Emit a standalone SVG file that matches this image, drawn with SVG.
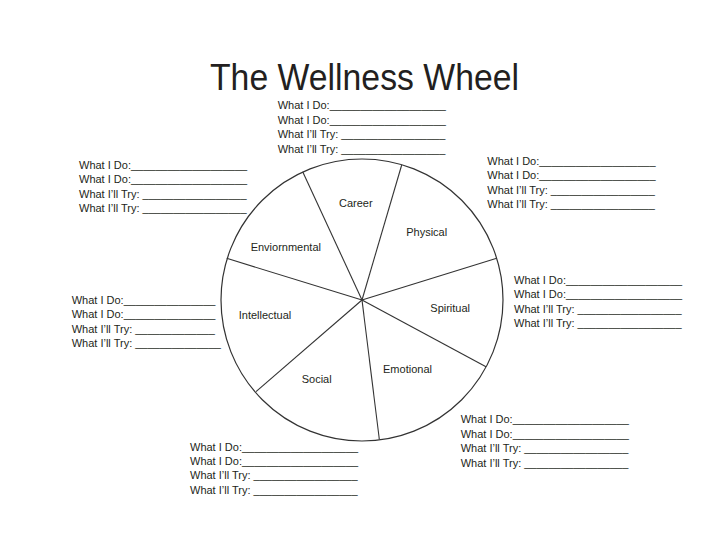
<svg xmlns="http://www.w3.org/2000/svg" width="720" height="540" viewBox="0 0 720 540">
<style>
text{font-family:"Liberation Sans",Arial,sans-serif;fill:#231f20}
.f{font-size:11px}
.seg{font-size:11px;text-anchor:middle}
.title{font-size:37px}
.wheel{fill:#fff;stroke:#333;stroke-width:1.2}
.spoke{stroke:#333;stroke-width:1.1}
</style>
<rect width="720" height="540" fill="#fff"/>
<g id="title"><text class="title" x="210" y="90" textLength="309" lengthAdjust="spacingAndGlyphs">The Wellness Wheel</text></g>
<g id="wheel">
<circle class="wheel" cx="362" cy="300" r="141"/>
<g id="spokes">
<line class="spoke" x1="362" y1="300" x2="302.7" y2="171.7"/>
<line class="spoke" x1="362" y1="300" x2="401.7" y2="165"/>
<line class="spoke" x1="362" y1="300" x2="496.7" y2="258.3"/>
<line class="spoke" x1="362" y1="300" x2="486" y2="366.7"/>
<line class="spoke" x1="362" y1="300" x2="379.3" y2="439.3"/>
<line class="spoke" x1="362" y1="300" x2="256" y2="391.7"/>
<line class="spoke" x1="362" y1="300" x2="226.7" y2="258.3"/>
</g>
</g>
<g id="seg-career"><text class="seg" x="355.8" y="206.5">Career</text></g>
<g id="seg-physical"><text class="seg" x="426.7" y="236">Physical</text></g>
<g id="seg-enviornmental"><text class="seg" x="285.8" y="250.5">Enviornmental</text></g>
<g id="seg-spiritual"><text class="seg" x="450.2" y="311.5">Spiritual</text></g>
<g id="seg-intellectual"><text class="seg" x="265" y="319.3">Intellectual</text></g>
<g id="seg-emotional"><text class="seg" x="407.5" y="372.7">Emotional</text></g>
<g id="seg-social"><text class="seg" x="316.7" y="383.3">Social</text></g>

<g id="block-top" class="f">
<text class="f" x="277.7" y="109">What I Do:___________________</text>
<text class="f" x="277.7" y="123.6">What I Do:___________________</text>
<text class="f" x="277.7" y="138.2">What I’ll Try: _________________</text>
<text class="f" x="277.7" y="152.8">What I’ll Try: _________________</text>
</g>
<g id="block-top-left">
<text class="f" x="79" y="169">What I Do:___________________</text>
<text class="f" x="79" y="183.3">What I Do:___________________</text>
<text class="f" x="79" y="197.6">What I’ll Try: _________________</text>
<text class="f" x="79" y="211.9">What I’ll Try: _________________</text>
</g>
<g id="block-top-right">
<text class="f" x="487.3" y="165">What I Do:___________________</text>
<text class="f" x="487.3" y="179.3">What I Do:___________________</text>
<text class="f" x="487.3" y="193.6">What I’ll Try: _________________</text>
<text class="f" x="487.3" y="207.9">What I’ll Try: _________________</text>
</g>
<g id="block-left">
<text class="f" x="71.7" y="304">What I Do:_______________</text>
<text class="f" x="71.7" y="318.3">What I Do:_______________</text>
<text class="f" x="71.7" y="332.6">What I’ll Try: _____________</text>
<text class="f" x="71.7" y="346.9">What I’ll Try: ______________</text>
</g>
<g id="block-right">
<text class="f" x="514" y="284">What I Do:___________________</text>
<text class="f" x="514" y="298.3">What I Do:___________________</text>
<text class="f" x="514" y="312.6">What I’ll Try: _________________</text>
<text class="f" x="514" y="326.9">What I’ll Try: _________________</text>
</g>
<g id="block-bottom-right">
<text class="f" x="460.7" y="423.3">What I Do:___________________</text>
<text class="f" x="460.7" y="437.7">What I Do:___________________</text>
<text class="f" x="460.7" y="452.1">What I’ll Try: _________________</text>
<text class="f" x="460.7" y="466.5">What I’ll Try: _________________</text>
</g>
<g id="block-bottom-left">
<text class="f" x="190" y="450.7">What I Do:___________________</text>
<text class="f" x="190" y="465">What I Do:___________________</text>
<text class="f" x="190" y="479.3">What I’ll Try: _________________</text>
<text class="f" x="190" y="493.6">What I’ll Try: _________________</text>
</g>
</svg>
